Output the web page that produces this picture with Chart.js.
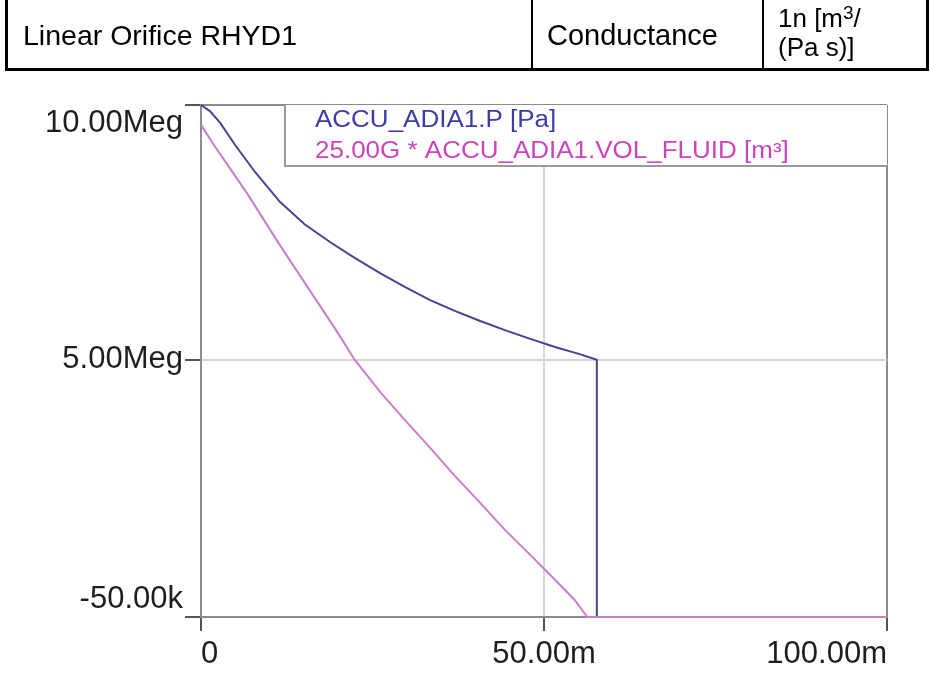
<!DOCTYPE html>
<html>
<head>
<meta charset="utf-8">
<script src="https://cdn.jsdelivr.net/npm/chart.js@4.4.1/dist/chart.umd.min.js"></script>
<style>
  html, body { margin: 0; padding: 0; background: #fff; }
  #wrap { position: relative; width: 931px; height: 675px; overflow: hidden; }
  #chart { position: absolute; left: 0; top: 0; }
  .rule { position: absolute; background: #000; }
  .cell { position: absolute; font-family: "Liberation Sans", Arial, sans-serif; color: #000; line-height: 1; white-space: nowrap; }
</style>
</head>
<body>
<div id="wrap">
  <canvas id="chart" width="931" height="675"></canvas>
  <!-- table row above the plot -->
  <div class="rule" style="left:5px;top:0;width:3px;height:71px"></div>
  <div class="rule" style="left:531px;top:0;width:2px;height:71px"></div>
  <div class="rule" style="left:762px;top:0;width:2px;height:71px"></div>
  <div class="rule" style="left:926px;top:0;width:3px;height:71px"></div>
  <div class="rule" style="left:5px;top:68px;width:924px;height:3px"></div>
  <div class="cell" style="left:23px;top:21px;font-size:28.5px">Linear Orifice RHYD1</div>
  <div class="cell" style="left:547px;top:21px;font-size:29px">Conductance</div>
  <div class="cell" style="left:778px;top:5px;font-size:26px">1n [m<sup style="font-size:19px;vertical-align:8px;line-height:0">3</sup>/</div>
  <div class="cell" style="left:778px;top:34px;font-size:26px">(Pa s)]</div>
</div>
<script>
// time in ms, values in Pa
const seriesLabels = ["ACCU_ADIA1.P [Pa]", "25.00G * ACCU_ADIA1.VOL_FLUID [m³]"];
const seriesColors = ["#45458f", "#c97ec9"];
const legendColors = ["#3c3ca6", "#cc44bb"];

const pTime  = [0, 1.3, 2.8, 5.0, 7.9, 11.5, 15.1, 18.8, 22.4, 26.1, 29.7, 33.4, 37.0, 40.7, 44.3, 48.0, 51.6, 55.2, 57.7, 57.7, 100];
const pValue = [10.0e6, 9.88e6, 9.65e6, 9.21e6, 8.68e6, 8.10e6, 7.66e6, 7.31e6, 7.00e6, 6.70e6, 6.43e6, 6.17e6, 5.96e6, 5.76e6, 5.58e6, 5.41e6, 5.25e6, 5.11e6, 5.00e6, -0.05e6, -0.05e6];

const volTime  = [0, 2.0, 4.2, 6.7, 9.0, 11.5, 14.0, 16.6, 19.5, 22.4, 26.1, 29.7, 33.4, 37.0, 40.7, 44.3, 48.0, 51.6, 54.5, 56.3, 100];
const volValue = [9.61e6, 9.19e6, 8.76e6, 8.27e6, 7.78e6, 7.25e6, 6.74e6, 6.21e6, 5.62e6, 5.00e6, 4.37e6, 3.82e6, 3.27e6, 2.72e6, 2.19e6, 1.66e6, 1.17e6, 0.68e6, 0.28e6, -0.05e6, -0.05e6];

const xTicks = [0, 50, 100];
const xTickLabels = ["0", "50.00m", "100.00m"];
const yTicks = [-0.05e6, 5e6, 10e6];
const yTickLabels = ["-50.00k", "5.00Meg", "10.00Meg"];

const toPoints = (xs, ys) => xs.map((x, i) => ({ x, y: ys[i] }));

// y labels at the ends sit inside the plot range in the original
const nudgeLabels = {
  id: "nudgeLabels",
  beforeDraw(chart) {
    const items = chart.scales.y.getLabelItems();
    items[0].options.translation[1] -= 18;
    items[items.length - 1].options.translation[1] += 18;
  }
};

const legendBox = {
  id: "legendBox",
  afterDatasetsDraw(chart) {
    const { ctx, chartArea } = chart;
    const left = 285, bottom = 166;
    ctx.save();
    ctx.fillStyle = "#fff";
    ctx.fillRect(left, chartArea.top, chartArea.right - left, bottom - chartArea.top);
    ctx.strokeStyle = "#9a9a9a";
    ctx.lineWidth = 2;
    ctx.beginPath();
    ctx.moveTo(left, chartArea.top);
    ctx.lineTo(left, bottom);
    ctx.lineTo(chartArea.right, bottom);
    ctx.stroke();
    ctx.font = "23px 'Liberation Sans', Arial, sans-serif";
    ctx.textBaseline = "middle";
    seriesLabels.forEach((lab, i) => {
      ctx.save();
      ctx.translate(315, 121 + i * 31);
      ctx.scale(1.13, 1);
      ctx.fillStyle = legendColors[i];
      ctx.fillText(lab, 0, 0);
      ctx.restore();
    });
    ctx.restore();
  }
};

const tickFont = { family: "'Liberation Sans', Arial, sans-serif", size: 31 };

new Chart(document.getElementById("chart"), {
  type: "line",
  data: {
    datasets: [
      {
        label: seriesLabels[0],
        data: toPoints(pTime, pValue),
        borderColor: seriesColors[0],
        borderWidth: 2,
        pointRadius: 0,
        tension: 0,
        clip: 4,
        order: 1
      },
      {
        label: seriesLabels[1],
        data: toPoints(volTime, volValue),
        borderColor: seriesColors[1],
        borderWidth: 2,
        pointRadius: 0,
        tension: 0,
        clip: 4,
        order: 0
      }
    ]
  },
  options: {
    responsive: false,
    animation: false,
    layout: { padding: { top: 105, right: 44, left: 0, bottom: 0 } },
    plugins: { legend: { display: false }, tooltip: { enabled: false } },
    scales: {
      x: {
        type: "linear",
        min: 0,
        max: 100,
        afterBuildTicks: s => { s.ticks = xTicks.map(v => ({ value: v })); },
        afterFit: s => { s.height = 58; },
        ticks: {
          font: tickFont,
          color: "#1e1e1e",
          align: "inner",
          padding: 5,
          maxRotation: 0,
          callback: (v, i) => xTickLabels[i]
        },
        grid: {
          color: c => (c.index === 1 ? "#d6d6d6" : "#8c8c8c"),
          lineWidth: 2,
          tickLength: 14,
          tickColor: "#555"
        },
        border: { color: "#8c8c8c", width: 2 }
      },
      y: {
        type: "linear",
        min: -0.05e6,
        max: 10e6,
        afterBuildTicks: s => { s.ticks = yTicks.map(v => ({ value: v })); },
        afterFit: s => { s.width = 201; },
        ticks: {
          font: tickFont,
          color: "#1e1e1e",
          padding: 2,
          callback: (v, i) => yTickLabels[i]
        },
        grid: {
          color: c => (c.index === 1 ? "#d6d6d6" : "#8c8c8c"),
          lineWidth: 2,
          tickLength: 16,
          tickColor: "#555"
        },
        border: { color: "#8c8c8c", width: 2 }
      }
    }
  },
  plugins: [nudgeLabels, legendBox]
});
</script>
</body>
</html>
